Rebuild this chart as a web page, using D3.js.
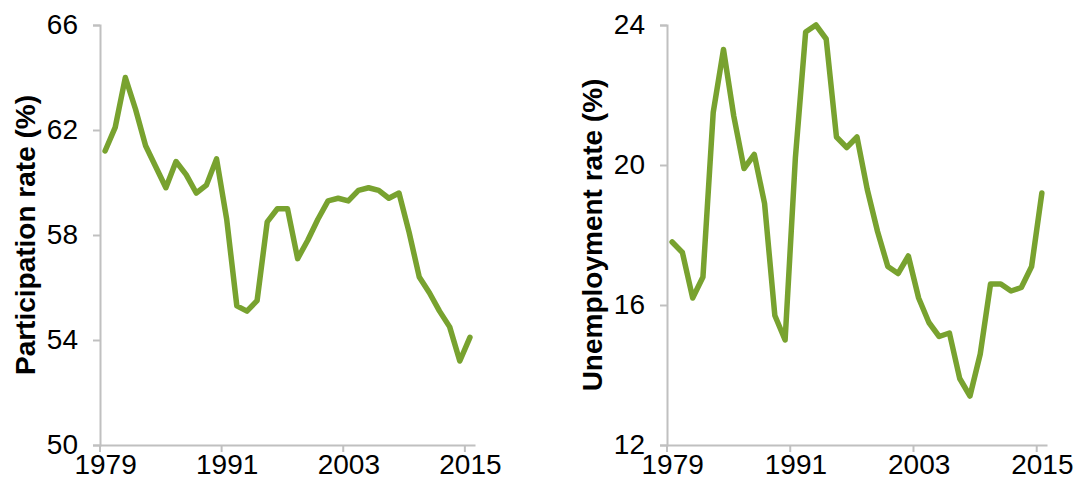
<!DOCTYPE html>
<html>
<head>
<meta charset="utf-8">
<script src="https://cdn.jsdelivr.net/npm/d3@7"></script>
<style>
  body { margin: 0; background: #fff; }
  svg text { font-family: "Liberation Sans", Arial, sans-serif; fill: #000; }
</style>
</head>
<body>
<svg id="chart" width="1075" height="491"></svg>
<script>
const years = d3.range(1979, 2016);
const yearTicks = [1979, 1991, 2003, 2015];

const participation = [
  61.2, 62.1, 64.0, 62.8, 61.4, 60.6, 59.8, 60.8, 60.3, 59.6,
  59.9, 60.9, 58.6, 55.3, 55.1, 55.5, 58.5, 59.0, 59.0, 57.1,
  57.8, 58.6, 59.3, 59.4, 59.3, 59.7, 59.8, 59.7, 59.4, 59.6,
  58.1, 56.4, 55.8, 55.1, 54.5, 53.2, 54.1
];
const participationTicks = [50, 54, 58, 62, 66];

const unemployment = [
  17.8, 17.5, 16.2, 16.8, 21.5, 23.3, 21.4, 19.9, 20.3, 18.9,
  15.7, 15.0, 20.2, 23.8, 24.0, 23.6, 20.8, 20.5, 20.8, 19.3,
  18.1, 17.1, 16.9, 17.4, 16.2, 15.5, 15.1, 15.2, 13.9, 13.4,
  14.6, 16.6, 16.6, 16.4, 16.5, 17.1, 19.2
];
const unemploymentTicks = [12, 16, 20, 24];

const lineColor = "#78a22f";
const axisColor = "#c0c0c0";

const svg = d3.select("#chart");

drawPanel({
  left: 100, right: 475, top: 25, bottom: 445,
  values: participation, yTicks: participationTicks,
  title: "Participation rate (%)", titleX: 25
});

drawPanel({
  left: 667, right: 1047, top: 25, bottom: 445,
  values: unemployment, yTicks: unemploymentTicks,
  title: "Unemployment rate (%)", titleX: 592
});

function drawPanel(p) {
  const g = svg.append("g");
  const x = d3.scaleLinear()
    .domain([years[0] - 0.5, years[years.length - 1] + 0.5])
    .range([p.left, p.right]);
  const y = d3.scaleLinear()
    .domain(d3.extent(p.yTicks))
    .range([p.bottom, p.top]);

  // y axis
  const yAxis = g.append("g")
    .attr("transform", `translate(${p.left},0)`)
    .call(d3.axisLeft(y).tickValues(p.yTicks).tickSize(7).tickPadding(15));
  yAxis.select(".domain").attr("stroke", axisColor).attr("stroke-width", 2);
  yAxis.selectAll(".tick line").attr("stroke", axisColor).attr("stroke-width", 2);
  yAxis.selectAll(".tick text")
    .attr("font-size", 28)
    .attr("font-family", "Liberation Sans, Arial, sans-serif")
    .attr("fill", "#000");

  // x axis
  const xAxis = g.append("g")
    .attr("transform", `translate(0,${p.bottom})`)
    .call(d3.axisBottom(x).tickValues(yearTicks).tickFormat(d3.format("d"))
      .tickSize(0).tickPadding(9));
  xAxis.select(".domain").attr("stroke", axisColor).attr("stroke-width", 2);
  xAxis.selectAll(".tick text")
    .attr("font-size", 28)
    .attr("font-family", "Liberation Sans, Arial, sans-serif")
    .attr("fill", "#000");
  // tick marks at category boundaries
  g.selectAll("line.xtick")
    .data(yearTicks.map(d => d - 0.5))
    .join("line")
    .attr("class", "xtick")
    .attr("x1", d => x(d)).attr("x2", d => x(d))
    .attr("y1", p.bottom).attr("y2", p.bottom + 7)
    .attr("stroke", axisColor).attr("stroke-width", 2);

  // line
  const line = d3.line()
    .x((d, i) => x(years[i]))
    .y(d => y(d));
  g.append("path")
    .datum(p.values)
    .attr("d", line)
    .attr("fill", "none")
    .attr("stroke", lineColor)
    .attr("stroke-width", 5.5)
    .attr("stroke-linejoin", "round")
    .attr("stroke-linecap", "round");

  // title
  g.append("text")
    .attr("transform", `translate(${p.titleX},${(p.top + p.bottom) / 2}) rotate(-90)`)
    .attr("text-anchor", "middle")
    .attr("dominant-baseline", "central")
    .attr("font-size", 28)
    .attr("font-weight", "bold")
    .text(p.title);
}
</script>
</body>
</html>
